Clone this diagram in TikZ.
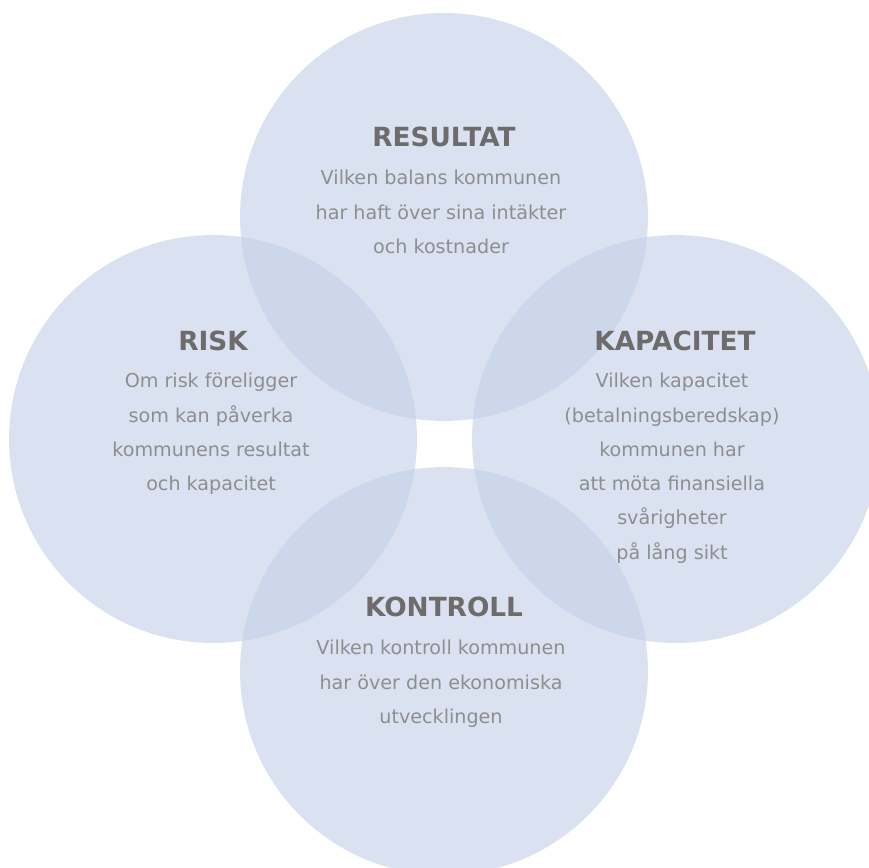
\documentclass[tikz,border=0pt]{standalone}
\usepackage{fontspec}
\setmainfont{DejaVu Sans}
\usetikzlibrary{positioning}
\definecolor{cirkel}{RGB}{198,209,232}
\definecolor{rubrikgra}{RGB}{110,107,107}
\definecolor{textgra}{RGB}{142,142,142}
\begin{document}
\begin{tikzpicture}[x=0.02cm, y=-0.02cm,
    disc/.style={circle, inner sep=0pt, minimum size=8.16cm, fill=cirkel, fill opacity=0.65},
    rubrik/.style={font=\fontsize{15}{17}\selectfont\bfseries, text=rubrikgra, anchor=base},
    brodtext/.style={font=\fontsize{10.9}{19.5}\selectfont, text=textgra, align=center, inner sep=0pt, anchor=north}]
    \useasboundingbox (0,0) rectangle (869,868);
    \clip (0,0) rectangle (869,868);
    % four circles
    \node[disc] (resultat) at (444,217) {};
    \node[disc] (risk) at (213,439) {};
    \node[disc] (kapacitet) at (676,439) {};
    \node[disc] (kontroll) at (444,671) {};
    % texts
    \node[rubrik] (resultat-rubrik) at (444,147) {RESULTAT};
    \node[brodtext] (resultat-text) at (441,170) {Vilken balans kommunen\\har haft över sina intäkter\\och kostnader};
    \node[rubrik] (risk-rubrik) at (213,350) {RISK};
    \node[brodtext] (risk-text) at (211,373) {Om risk föreligger\\som kan påverka\\kommunens resultat\\och kapacitet};
    \node[rubrik] (kapacitet-rubrik) at (675,350) {KAPACITET};
    \node[brodtext] (kapacitet-text) at (672,373) {Vilken kapacitet\\(betalningsberedskap)\\kommunen har\\att möta finansiella\\svårigheter\\på lång sikt};
    \node[rubrik] (kontroll-rubrik) at (444,616) {KONTROLL};
    \node[brodtext] (kontroll-text) at (441,640) {Vilken kontroll kommunen\\har över den ekonomiska\\utvecklingen};
\end{tikzpicture}
\end{document}
